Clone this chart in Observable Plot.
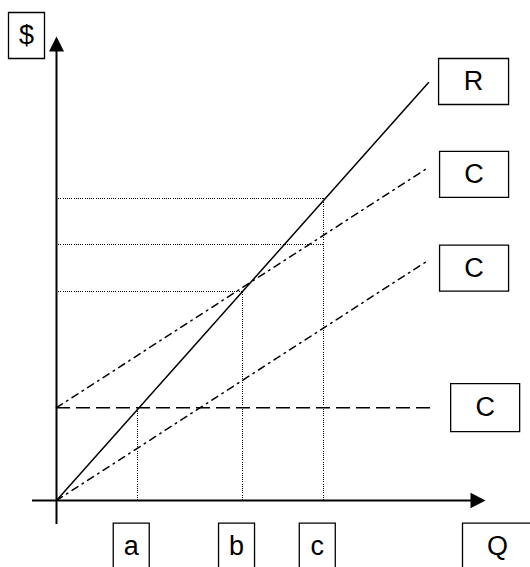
<!DOCTYPE html>
<html><head><meta charset="utf-8">
<script src="https://cdn.jsdelivr.net/npm/d3@7"></script>
<script src="https://cdn.jsdelivr.net/npm/@observablehq/plot@0.6"></script>
<style>html,body{margin:0;padding:0;background:#fff;overflow:hidden}</style>
</head><body><div id="chart"></div>
<script>
// ---- data (Q and $ in arbitrary units) ----
const quantity = [0, 100];            // Q at start / end of the drawn lines
const revenue = [0, 100];             // R
const variableCost = [0, 57.5];       // lower C (variable cost)
const totalCost = [22.2, 79.7];       // upper C (total cost)
const fixedCost = 22.2;               // flat C (fixed cost)
const fixedCostEnd = 101.9;           // Q where the fixed-cost line stops
const pointNames = ["a", "b", "c"];
const pointQ = [21.7, 50, 71.7];
const pointTops = [22.2, 50.1, 72.2]; // $ height of each vertical dotted guide
const guideLevels = [50.1, 61.2, 72.2]; // $ levels of horizontal dotted guides
const guideEnds = [50, 71.7, 71.7];     // Q where each horizontal guide ends
const axisQ = [-6.45, 115.3];
const axisDollar = [-5.74, 111];
const seriesNames = ["R", "C", "C", "C"];
const axisNames = ["$", "Q"];

// ---- tables built from the arrays ----
const revData = quantity.map((q, i) => ({q, v: revenue[i]}));
const varData = quantity.map((q, i) => ({q, v: variableCost[i]}));
const totData = quantity.map((q, i) => ({q, v: totalCost[i]}));
const vGuides = pointQ.map((q, i) => ({q, v: pointTops[i], label: pointNames[i]}));
const hGuides = guideLevels.map((v, i) => ({q: guideEnds[i], v}));

const labelR = {q: quantity[1], v: revenue[1], label: seriesNames[0]};
const labelTot = {q: quantity[1], v: totalCost[1], label: seriesNames[1]};
const labelVar = {q: quantity[1], v: variableCost[1], label: seriesNames[2]};
const labelFix = {q: fixedCostEnd, v: fixedCost, label: seriesNames[3]};
const labelDollar = {q: 0, v: axisDollar[1], label: axisNames[0]};
const labelQ = {q: axisQ[1], v: 0, label: axisNames[1]};

// ---- custom symbols ----
const boxSymbol = (w, h) => ({draw(ctx) { ctx.rect(-w / 2, -h / 2, w, h); }});
const arrowUp = {draw(ctx) { ctx.moveTo(0, 0); ctx.lineTo(-7.5, 15); ctx.lineTo(7.5, 15); ctx.closePath(); }};
const arrowRight = {draw(ctx) { ctx.moveTo(0, 0); ctx.lineTo(-15, -7.8); ctx.lineTo(-15, 7.8); ctx.closePath(); }};

function boxed(data, {w, h, dx, dy}) {
  return [
    Plot.dot(data, {x: "q", y: "v", symbol: boxSymbol(w, h), r: 5, fill: "white", stroke: "black", strokeWidth: 1.3, dx, dy}),
    Plot.text(data, {x: "q", y: "v", text: "label", dx, dy, fontSize: 27, fill: "black"})
  ];
}

const dotted = {stroke: "black", strokeWidth: 1, strokeDasharray: "1,1.2", shapeRendering: "crispEdges"};
const dashDot = {stroke: "black", strokeWidth: 1.5, strokeDasharray: "7,5,1.5,5"};

const chart = Plot.plot({
  width: 530,
  height: 567,
  marginLeft: 32,
  marginRight: 45,
  marginTop: 36,
  marginBottom: 43,
  x: {domain: axisQ, axis: null},
  y: {domain: axisDollar, axis: null},
  style: {fontFamily: "'Liberation Sans', Arial, sans-serif", background: "white", overflow: "visible"},
  marks: [
    Plot.ruleY(hGuides, {y: "v", x1: 0, x2: "q", ...dotted}),
    Plot.ruleX(vGuides, {x: "q", y1: 0, y2: "v", ...dotted}),
    Plot.ruleY([fixedCost], {x1: 0, x2: fixedCostEnd, stroke: "black", strokeWidth: 1.5, strokeDasharray: "14,6"}),
    Plot.line(varData, {x: "q", y: "v", ...dashDot}),
    Plot.line(totData, {x: "q", y: "v", ...dashDot}),
    Plot.line(revData, {x: "q", y: "v", stroke: "black", strokeWidth: 1.5}),
    Plot.ruleY([0], {x1: axisQ[0], x2: axisQ[1] - 2, stroke: "black", strokeWidth: 2}),
    Plot.ruleX([0], {y1: axisDollar[0], y2: axisDollar[1] - 1, stroke: "black", strokeWidth: 2}),
    Plot.dot([labelQ], {x: "q", y: "v", symbol: arrowRight, r: 5, fill: "black", stroke: "none"}),
    Plot.dot([labelDollar], {x: "q", y: "v", symbol: arrowUp, r: 5, fill: "black", stroke: "none"}),
    ...boxed([labelR], {w: 70, h: 46, dx: 45, dy: -1}),
    ...boxed([labelTot], {w: 69, h: 46, dx: 45.5, dy: 7}),
    ...boxed([labelVar], {w: 69, h: 46, dx: 45.5, dy: 8}),
    ...boxed([labelFix], {w: 69, h: 48, dx: 49.5, dy: 0}),
    ...boxed(vGuides.map(d => ({...d, v: 0})), {w: 36, h: 46, dx: -6, dy: 45.7}),
    ...boxed([labelQ], {w: 70, h: 46, dx: 12, dy: 45.7}),
    ...boxed([labelDollar], {w: 36, h: 46, dx: -30, dy: -1})
  ]
});
document.getElementById("chart").appendChild(chart);
</script>
</body></html>
